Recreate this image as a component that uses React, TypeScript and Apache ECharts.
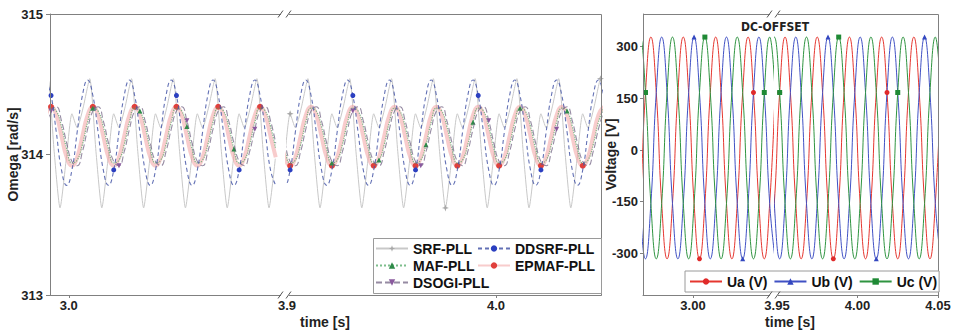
import React, { useEffect, useRef } from "react";
import * as echarts from "echarts";

const FONT = '"Liberation Sans", Arial, Helvetica, sans-serif';

// ---------------- Left panel: PLL angular frequency (rad/s) ----------------
// uniformly sampled segments, before / after the axis break
const pllStartA = 2.989;
const pllStartB = 3.889;
const pllStep = 0.0025;

const ddsrfA = [
  314.53, 314.42, 314.16, 313.89, 313.78, 313.89, 314.16, 314.42,
  314.53, 314.42, 314.16, 313.89, 313.78, 313.89, 314.16, 314.42,
  314.53, 314.42, 314.16, 313.89, 313.78, 313.89, 314.16, 314.42,
  314.53, 314.42, 314.16, 313.89, 313.78, 313.89, 314.16, 314.42,
  314.53, 314.42, 314.16, 313.89, 313.78, 313.89, 314.16, 314.42,
  314.53, 314.42, 314.16, 313.89, 313.78,
];
const ddsrfB = [
  314.53, 314.42, 314.16, 313.89, 313.78, 313.89, 314.16, 314.42,
  314.53, 314.42, 314.16, 313.89, 313.78, 313.89, 314.16, 314.42,
  314.53, 314.42, 314.16, 313.89, 313.78, 313.89, 314.16, 314.42,
  314.53, 314.42, 314.16, 313.89, 313.78, 313.89, 314.16, 314.42,
  314.53, 314.42, 314.16, 313.89, 313.78, 313.89, 314.16, 314.42,
  314.53, 314.42, 314.16, 313.89, 313.78, 313.89, 314.16, 314.42,
  314.53, 314.42, 314.16, 313.89, 313.78, 313.89, 314.16, 314.42,
  314.53, 314.42, 314.16, 313.89, 313.78, 313.89, 314.16, 314.42,
  314.53, 314.42,
];
const mafA = [
  314.23, 314.33, 314.31, 314.2, 314.04, 313.94, 313.96, 314.07,
  314.23, 314.33, 314.31, 314.2, 314.04, 313.94, 313.96, 314.07,
  314.23, 314.33, 314.31, 314.2, 314.04, 313.94, 313.96, 314.07,
  314.23, 314.33, 314.31, 314.2, 314.04, 313.94, 313.96, 314.07,
  314.23, 314.33, 314.31, 314.2, 314.04, 313.94, 313.96, 314.07,
  314.23, 314.33, 314.31, 314.2, 314.04,
];
const mafB = [
  314.23, 314.33, 314.31, 314.2, 314.04, 313.94, 313.96, 314.07,
  314.23, 314.33, 314.31, 314.2, 314.04, 313.94, 313.96, 314.07,
  314.23, 314.33, 314.31, 314.2, 314.04, 313.94, 313.96, 314.07,
  314.23, 314.33, 314.31, 314.2, 314.04, 313.94, 313.96, 314.07,
  314.23, 314.33, 314.31, 314.2, 314.04, 313.94, 313.96, 314.07,
  314.23, 314.33, 314.31, 314.2, 314.04, 313.94, 313.96, 314.07,
  314.23, 314.33, 314.31, 314.2, 314.04, 313.94, 313.96, 314.07,
  314.23, 314.33, 314.31, 314.2, 314.04, 313.94, 313.96, 314.07,
  314.23, 314.33,
];
const epmafA = [
  314.28, 314.34, 314.28, 314.13, 313.98, 313.92, 313.98, 314.13,
  314.28, 314.34, 314.28, 314.13, 313.98, 313.92, 313.98, 314.13,
  314.28, 314.34, 314.28, 314.13, 313.98, 313.92, 313.98, 314.13,
  314.28, 314.34, 314.28, 314.13, 313.98, 313.92, 313.98, 314.13,
  314.28, 314.34, 314.28, 314.13, 313.98, 313.92, 313.98, 314.13,
  314.28, 314.34, 314.28, 314.13, 313.98,
];
const epmafB = [
  314.28, 314.34, 314.28, 314.13, 313.98, 313.92, 313.98, 314.13,
  314.28, 314.34, 314.28, 314.13, 313.98, 313.92, 313.98, 314.13,
  314.28, 314.34, 314.28, 314.13, 313.98, 313.92, 313.98, 314.13,
  314.28, 314.34, 314.28, 314.13, 313.98, 313.92, 313.98, 314.13,
  314.28, 314.34, 314.28, 314.13, 313.98, 313.92, 313.98, 314.13,
  314.28, 314.34, 314.28, 314.13, 313.98, 313.92, 313.98, 314.13,
  314.28, 314.34, 314.28, 314.13, 313.98, 313.92, 313.98, 314.13,
  314.28, 314.34, 314.28, 314.13, 313.98, 313.92, 313.98, 314.13,
  314.28, 314.34,
];
const dsogiA = [
  314.18, 314.31, 314.34, 314.24, 314.08, 313.95, 313.92, 314.02,
  314.18, 314.31, 314.34, 314.24, 314.08, 313.95, 313.92, 314.02,
  314.18, 314.31, 314.34, 314.24, 314.08, 313.95, 313.92, 314.02,
  314.18, 314.31, 314.34, 314.24, 314.08, 313.95, 313.92, 314.02,
  314.18, 314.31, 314.34, 314.24, 314.08, 313.95, 313.92, 314.02,
  314.18, 314.31, 314.34, 314.24, 314.08,
];
const dsogiB = [
  314.18, 314.31, 314.34, 314.24, 314.08, 313.95, 313.92, 314.02,
  314.18, 314.31, 314.34, 314.24, 314.08, 313.95, 313.92, 314.02,
  314.18, 314.31, 314.34, 314.24, 314.08, 313.95, 313.92, 314.02,
  314.18, 314.31, 314.34, 314.24, 314.08, 313.95, 313.92, 314.02,
  314.18, 314.31, 314.34, 314.24, 314.08, 313.95, 313.92, 314.02,
  314.18, 314.31, 314.34, 314.24, 314.08, 313.95, 313.92, 314.02,
  314.18, 314.31, 314.34, 314.24, 314.08, 313.95, 313.92, 314.02,
  314.18, 314.31, 314.34, 314.24, 314.08, 313.95, 313.92, 314.02,
  314.18, 314.31,
];

// SRF-PLL: irregular samples (time, value)
const srfTimeA = [
  2.9868,
  2.99, 2.993, 2.9958, 2.9988, 3.0015, 3.004, 3.0068,
  3.01, 3.013, 3.0158, 3.0188, 3.0215, 3.024, 3.0268,
  3.03, 3.033, 3.0358, 3.0388, 3.0415, 3.044, 3.0468,
  3.05, 3.053, 3.0558, 3.0588, 3.0615, 3.064, 3.0668,
  3.07, 3.073, 3.0758, 3.0788, 3.0815, 3.084, 3.0868,
  3.09, 3.093, 3.0958, 3.0988,
];
const srfA = [
  314.33,
  314.54, 314.02, 313.62, 313.97, 314.29, 314.19, 314.33,
  314.54, 314.02, 313.62, 313.97, 314.29, 314.19, 314.33,
  314.54, 314.02, 313.62, 313.97, 314.29, 314.19, 314.33,
  314.54, 314.02, 313.62, 313.97, 314.29, 314.19, 314.33,
  314.54, 314.02, 313.62, 313.97, 314.29, 314.19, 314.33,
  314.54, 314.02, 313.62, 313.97,
];
const srfTimeB = [
  3.8868,
  3.89, 3.893, 3.8958, 3.8988, 3.9015, 3.904, 3.9068,
  3.91, 3.913, 3.9158, 3.9188, 3.9215, 3.924, 3.9268,
  3.93, 3.933, 3.9358, 3.9388, 3.9415, 3.944, 3.9468,
  3.95, 3.953, 3.9558, 3.9588, 3.9615, 3.964, 3.9668,
  3.97, 3.973, 3.9758, 3.9788, 3.9815, 3.984, 3.9868,
  3.99, 3.993, 3.9958, 3.9988, 4.0015, 4.004, 4.0068,
  4.01, 4.013, 4.0158, 4.0188, 4.0215, 4.024, 4.0268,
  4.03, 4.033, 4.0358, 4.0388, 4.0415, 4.044, 4.0468,
  4.05, 4.053,
];
const srfB = [
  314.33,
  314.54, 314.02, 313.62, 313.97, 314.29, 314.19, 314.33,
  314.54, 314.02, 313.62, 313.97, 314.29, 314.19, 314.33,
  314.54, 314.02, 313.62, 313.97, 314.29, 314.19, 314.33,
  314.54, 314.02, 313.62, 313.97, 314.29, 314.19, 314.33,
  314.54, 314.02, 313.62, 313.97, 314.29, 314.19, 314.33,
  314.54, 314.02, 313.62, 313.97, 314.29, 314.19, 314.33,
  314.54, 314.02, 313.62, 313.97, 314.29, 314.19, 314.33,
  314.54, 314.02, 313.62, 313.97, 314.29, 314.19, 314.33,
  314.54, 314.02,
];

// marker positions (sample indices) as they appear in the picture
const marksSrf = { A: [] as number[], B: [5, 31, 57] };
const marksDdsrf = { A: [1, 13, 25, 37], B: [5, 17, 29, 41, 53] };
const marksMaf = { A: [9, 18, 27, 36, 45], B: [13, 22, 31, 40, 49, 58] };
const marksEpmaf = { A: [1, 9, 17, 25, 33, 41], B: [5, 13, 21, 29, 37, 45, 53, 61] };
const marksDsogi = { A: [1, 14, 27, 40], B: [17, 30, 43, 56] };

const omegaTicks = [313, 314, 315];
const timeTicksLA = [3.0];
const timeTicksLB = [3.9, 4.0];

// ---------------- Right panel: three-phase voltages (V) ----------------
const vStartA = 2.954;
const vStartB = 3.935;
const vStep = 1 / 300;

const uaA = [
  328, 167, -155, -316, -155, 167, 328, 167, -155, -316, -155, 167,
  328, 167, -155, -316, -155, 167, 328, 167, -155, -316, -155, 167,
  328, 167, -155, -316, -155, 167,
];
const ubA = [
  -155, 167, 328, 167, -155, -316, -155, 167, 328, 167, -155, -316,
  -155, 167, 328, 167, -155, -316, -155, 167, 328, 167, -155, -316,
  -155, 167, 328, 167, -155, -316,
];
const ucA = [
  -155, -316, -155, 167, 328, 167, -155, -316, -155, 167, 328, 167,
  -155, -316, -155, 167, 328, 167, -155, -316, -155, 167, 328, 167,
  -155, -316, -155, 167, 328, 167,
];
const uaB = [
  328, 167, -155, -316, -155, 167, 328, 167, -155, -316, -155, 167,
  328, 167, -155, -316, -155, 167, 328, 167, -155, -316, -155, 167,
  328, 167, -155, -316, -155, 167, 328, 167, -155, -316, -155, 167,
];
const ubB = [
  -155, 167, 328, 167, -155, -316, -155, 167, 328, 167, -155, -316,
  -155, 167, 328, 167, -155, -316, -155, 167, 328, 167, -155, -316,
  -155, 167, 328, 167, -155, -316, -155, 167, 328, 167, -155, -316,
];
const ucB = [
  -155, -316, -155, 167, 328, 167, -155, -316, -155, 167, 328, 167,
  -155, -316, -155, 167, 328, 167, -155, -316, -155, 167, 328, 167,
  -155, -316, -155, 167, 328, 167, -155, -316, -155, 167, 328, 167,
];
const marksUa = { A: [5, 15, 25], B: [5, 15, 25] };
const marksUb = { A: [14, 23], B: [14, 23, 32] };
const marksUc = { A: [5, 16, 27], B: [5, 16, 27] };

const voltTicks = [-300, -150, 0, 150, 300];
const timeTicksRA = [3.0];
const timeTicksRB = [3.95, 4.0, 4.05];

// ---------------- helpers ----------------
const onGrid = (t0: number, dt: number, vals: number[]) =>
  vals.map((v, i) => [Number((t0 + i * dt).toFixed(5)), v]);
const zip = (ts: number[], vs: number[]) => ts.map((t, i) => [t, vs[i]]);

const STAR = "path://M0,-10L2.6,-2.6L10,0L2.6,2.6L0,10L-2.6,2.6L-10,0L-2.6,-2.6Z";
const TRI_DOWN = "path://M-10,-9L10,-9L0,9Z";

type Sty = {
  color: string; mark: string; width: number; type: any; opacity?: number;
  symbol: string; size: number; smooth: number; z?: number;
};

const mk = (name: string, axis: number, data: any[], marks: number[], s: Sty) => {
  const set = new Set(marks);
  return {
    type: "line",
    name,
    xAxisIndex: axis,
    yAxisIndex: axis,
    data,
    smooth: s.smooth,
    symbol: s.symbol,
    showSymbol: true,
    symbolSize: (_v: any, p: any) => (set.has(p.dataIndex) ? s.size : 0),
    lineStyle: { color: s.color, width: s.width, type: s.type, opacity: s.opacity ?? 1 },
    itemStyle: { color: s.mark },
    emphasis: { disabled: true },
    silent: true,
    clip: true,
    z: s.z ?? 2,
  };
};

const sSrf: Sty = { color: "#c8c8c8", mark: "#a8a8a8", width: 1, type: "solid", symbol: STAR, size: 7, smooth: 0.2 };
const sDdsrf: Sty = { color: "#4858a8", mark: "#2b3fc0", width: 1.1, type: [4, 3], opacity: 0.85, symbol: "circle", size: 5, smooth: 0.5, z: 6 };
const sMaf: Sty = { color: "#52a866", mark: "#2e8a48", width: 1.2, type: "dotted", opacity: 0.75, symbol: "triangle", size: 5, smooth: 0.5, z: 4 };
const sEpmaf: Sty = { color: "#f29a9a", mark: "#e0403c", width: 4, type: "solid", opacity: 0.5, symbol: "circle", size: 6, smooth: 0.5, z: 3 };
const sDsogi: Sty = { color: "#6a5a7c", mark: "#8a5a9e", width: 1.1, type: [6, 3], opacity: 0.7, symbol: TRI_DOWN, size: 5, smooth: 0.5, z: 5 };
const sUa: Sty = { color: "#e5362f", mark: "#e02a2a", width: 1, type: "solid", symbol: "circle", size: 5, smooth: 0.5 };
const sUb: Sty = { color: "#4051c4", mark: "#3347c0", width: 1, type: "solid", symbol: "triangle", size: 5, smooth: 0.5 };
const sUc: Sty = { color: "#2f9440", mark: "#1f8a35", width: 1, type: "solid", symbol: "rect", size: 5, smooth: 0.5 };

// layout
const LT = 14, LH = 281;
const gL1 = { left: 50, width: 233 };
const gL2 = { left: 287, width: 314 };
const gR1 = { left: 643, width: 130 };
const gR2 = { left: 775, width: 163 };

const AXC = "#808080";
const TXC = "#222";

const xAx = (grid: number, min: number, max: number, ticks: number[], dec: number) => ({
  type: "value",
  gridIndex: grid,
  min,
  max,
  axisLine: { show: true, onZero: false, lineStyle: { color: AXC, width: 1 } },
  axisTick: { show: true, customValues: ticks, length: 3, lineStyle: { color: AXC } },
  axisLabel: {
    customValues: ticks,
    formatter: (v: number) => v.toFixed(dec),
    margin: 4,
    fontFamily: FONT,
    fontWeight: "bold",
    fontSize: 13,
    color: TXC,
  },
  splitLine: { show: false },
});

const yHidden = (grid: number, min: number, max: number) => ({
  type: "value",
  gridIndex: grid,
  min,
  max,
  show: false,
  splitLine: { show: false },
});

const breakMark = (cx: number, cy: number) => [
  { type: "rect", shape: { x: cx - 4, y: cy - 3, width: 8, height: 6 }, style: { fill: "#fff" }, z: 40, silent: true },
  { type: "line", shape: { x1: cx - 7, y1: cy + 3, x2: cx - 2, y2: cy - 4 }, style: { stroke: "#555", lineWidth: 1 }, z: 41, silent: true },
  { type: "line", shape: { x1: cx + 1, y1: cy + 3, x2: cx + 6, y2: cy - 4 }, style: { stroke: "#555", lineWidth: 1 }, z: 41, silent: true },
];

const legendText = { fontFamily: FONT, fontWeight: "bold", fontSize: 14, color: "#111", lineHeight: 17 };

export default function App() {
  const ref = useRef<HTMLDivElement>(null);

  useEffect(() => {
    if (!ref.current) return;
    const chart = echarts.init(ref.current, null, { renderer: "svg" });

    const series = [
      mk("SRF-PLL", 0, zip(srfTimeA, srfA), marksSrf.A, sSrf),
      mk("SRF-PLL", 1, zip(srfTimeB, srfB), marksSrf.B, sSrf),
      mk("EPMAF-PLL", 0, onGrid(pllStartA, pllStep, epmafA), marksEpmaf.A, sEpmaf),
      mk("EPMAF-PLL", 1, onGrid(pllStartB, pllStep, epmafB), marksEpmaf.B, sEpmaf),
      mk("MAF-PLL", 0, onGrid(pllStartA, pllStep, mafA), marksMaf.A, sMaf),
      mk("MAF-PLL", 1, onGrid(pllStartB, pllStep, mafB), marksMaf.B, sMaf),
      mk("DSOGI-PLL", 0, onGrid(pllStartA, pllStep, dsogiA), marksDsogi.A, sDsogi),
      mk("DSOGI-PLL", 1, onGrid(pllStartB, pllStep, dsogiB), marksDsogi.B, sDsogi),
      mk("DDSRF-PLL", 0, onGrid(pllStartA, pllStep, ddsrfA), marksDdsrf.A, sDdsrf),
      mk("DDSRF-PLL", 1, onGrid(pllStartB, pllStep, ddsrfB), marksDdsrf.B, sDdsrf),
      mk("Ua (V)", 2, onGrid(vStartA, vStep, uaA), marksUa.A, sUa),
      mk("Ua (V)", 3, onGrid(vStartB, vStep, uaB), marksUa.B, sUa),
      mk("Ub (V)", 2, onGrid(vStartA, vStep, ubA), marksUb.A, sUb),
      mk("Ub (V)", 3, onGrid(vStartB, vStep, ubB), marksUb.B, sUb),
      mk("Uc (V)", 2, onGrid(vStartA, vStep, ucA), marksUc.A, sUc),
      mk("Uc (V)", 3, onGrid(vStartB, vStep, ucB), marksUc.B, sUc),
    ];

    const option: any = {
      animation: false,
      backgroundColor: "#fff",
      grid: [
        { ...gL1, top: LT, height: LH, containLabel: false, outerBoundsMode: "none" },
        { ...gL2, top: LT, height: LH, containLabel: false, outerBoundsMode: "none" },
        { ...gR1, top: LT, height: LH, containLabel: false, outerBoundsMode: "none" },
        { ...gR2, top: LT, height: LH, containLabel: false, outerBoundsMode: "none" },
      ],
      xAxis: [
        xAx(0, 2.991, 3.10248, timeTicksLA, 1),
        xAx(1, 3.9, 4.05024, timeTicksLB, 1),
        xAx(2, 2.96914, 3.04938, timeTicksRA, 2),
        xAx(3, 3.94877, 4.05, timeTicksRB, 2),
      ],
      yAxis: [
        {
          type: "value",
          gridIndex: 0,
          min: 313,
          max: 315,
          axisLine: { show: true, onZero: false, lineStyle: { color: AXC } },
          axisTick: { show: true, customValues: omegaTicks, length: 4, lineStyle: { color: AXC } },
          axisLabel: { customValues: omegaTicks, margin: 7, fontFamily: FONT, fontWeight: "bold", fontSize: 13, color: TXC },
          splitLine: { show: false },
          name: "Omega [rad/s]",
          nameLocation: "middle",
          nameGap: 30,
          nameMoveOverlap: false,
          nameTextStyle: { fontFamily: FONT, fontWeight: "bold", fontSize: 14, color: TXC },
        },
        yHidden(1, 313, 315),
        {
          type: "value",
          gridIndex: 2,
          min: -421,
          max: 395,
          axisLine: { show: true, onZero: false, lineStyle: { color: AXC } },
          axisTick: { show: true, customValues: voltTicks, length: 3, lineStyle: { color: AXC } },
          axisLabel: { customValues: voltTicks, margin: 5, fontFamily: FONT, fontWeight: "bold", fontSize: 13, color: TXC },
          splitLine: { show: false },
          name: "Voltage [V]",
          nameLocation: "middle",
          nameGap: 25,
          nameMoveOverlap: false,
          nameTextStyle: { fontFamily: FONT, fontWeight: "bold", fontSize: 14, color: TXC },
        },
        yHidden(3, -421, 395),
      ],
      legend: [
        {
          data: ["SRF-PLL", "MAF-PLL", "DSOGI-PLL"],
          orient: "vertical",
          left: 375,
          top: 240,
          itemWidth: 32,
          itemHeight: 8,
          itemGap: 0,
          padding: 0,
          selectedMode: false,
          textStyle: legendText,
          z: 30,
        },
        {
          data: ["DDSRF-PLL", "EPMAF-PLL"],
          orient: "vertical",
          left: 477,
          top: 240,
          itemWidth: 32,
          itemHeight: 8,
          itemGap: 0,
          padding: 0,
          selectedMode: false,
          textStyle: legendText,
          z: 30,
        },
        {
          data: ["Ua (V)", "Ub (V)", "Uc (V)"],
          orient: "horizontal",
          left: 685,
          top: 271,
          itemWidth: 32,
          itemHeight: 8,
          itemGap: 6,
          padding: [2, 2, 2, 4],
          backgroundColor: "#fff",
          borderColor: "#9a9a9a",
          borderWidth: 1,
          selectedMode: false,
          textStyle: legendText,
          z: 30,
        },
      ],
      graphic: [
        { type: "rect", shape: { x: 50.5, y: 14.5, width: 551, height: 281 }, style: { fill: "none", stroke: AXC, lineWidth: 1 }, z: 20, silent: true },
        { type: "rect", shape: { x: 643.5, y: 14.5, width: 295, height: 281 }, style: { fill: "none", stroke: AXC, lineWidth: 1 }, z: 20, silent: true },
        ...breakMark(285, 14.5),
        ...breakMark(285, 295.5),
        ...breakMark(774, 14.5),
        ...breakMark(774, 295.5),
        { type: "rect", shape: { x: 373.5, y: 238.5, width: 228, height: 55 }, style: { fill: "#fff", stroke: "#9a9a9a", lineWidth: 1 }, z: 25, silent: true },
        {
          type: "text", x: 325, y: 322, z: 30, silent: true,
          style: { text: "time [s]", fontFamily: FONT, fontWeight: "bold", fontSize: 14, fill: TXC, textAlign: "center", textVerticalAlign: "middle" },
        },
        {
          type: "text", x: 790, y: 322, z: 30, silent: true,
          style: { text: "time [s]", fontFamily: FONT, fontWeight: "bold", fontSize: 14, fill: TXC, textAlign: "center", textVerticalAlign: "middle" },
        },
        {
          type: "text", x: 775, y: 27, z: 30, silent: true,
          style: { text: "DC-OFFSET", fontFamily: '"Liberation Sans Narrow", "DejaVu Sans Condensed", Arial, sans-serif', fontWeight: "bold", fontSize: 12, fill: TXC, textAlign: "center", textVerticalAlign: "middle" },
        },
      ],
      series,
    };

    chart.setOption(option);
    return () => chart.dispose();
  }, []);

  return (
    <div
      ref={ref}
      style={{ position: "fixed", left: 0, top: 0, width: 957, height: 334, background: "#fff" }}
    />
  );
}
